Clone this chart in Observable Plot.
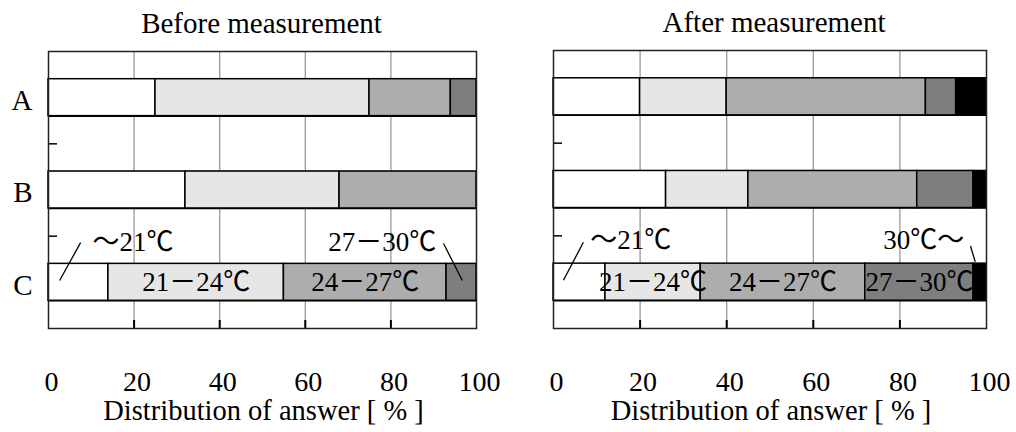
<!DOCTYPE html>
<html>
<head>
<meta charset="utf-8">
<script src="https://cdn.jsdelivr.net/npm/d3@7"></script>
<script src="https://cdn.jsdelivr.net/npm/@observablehq/plot@0.6"></script>
<style>
  body { margin: 0; background: #fff; }
  #wrap { display: flex; width: 1016px; height: 432px; }
  #wrap svg { display: block; }
</style>
</head>
<body>
<div id="wrap"></div>
<script>
// ---- data ----
const rows = ["A", "B", "C"];
const bands = ["～21℃", "21－24℃", "24－27℃", "27－30℃", "30℃～"];
const beforeA = [25, 50, 19, 6, 0];
const beforeB = [32, 36, 32, 0, 0];
const beforeC = [14, 41, 38, 7, 0];
const afterA = [20, 20, 46, 7, 7];
const afterB = [26, 19, 39, 13, 3];
const afterC = [12, 22, 38, 25, 3];
const xTicks = [0, 20, 40, 60, 80, 100];
const titles = ["Before measurement", "After measurement"];
const xLabel = "Distribution of answer [ % ]";

// ---- styling / layout (not data) ----
const bandFills = ["#ffffff", "#e6e6e6", "#adadad", "#7e7e7e", "#000000"];
const FONT = "'Liberation Serif', 'Times New Roman', 'Noto Sans CJK JP', serif";
const W = 508, H = 432, MB = 104, HALF = 0.2;

// callout placement (label text refers to band index)
const beforeCallouts = [
  {band: 0, tx: 10.3, ty: 2.166, anchor: "start", lx1: 2.6, ly1: 2.48, lx2: 7.5, ly2: 2.07},
  {band: 3, tx: 78.0, ty: 2.166, anchor: "middle", lx1: 96.7, ly1: 2.48, lx2: 92.3, ly2: 2.08}
];
const afterCallouts = [
  {band: 0, tx: 8.5, ty: 2.137, anchor: "start", lx1: 2.3, ly1: 2.48, lx2: 6.9, ly2: 2.07},
  {band: 4, tx: 85.5, ty: 2.137, anchor: "middle", lx1: 97.4, ly1: 2.28, lx2: 96.3, ly2: 2.11}
];

function panel({series, title, titleDx, callouts, marginLeft, marginRight, marginTop, rowLabels}) {
  const plotW = W - marginLeft - marginRight;
  const plotH = H - marginTop - MB;
  const rowCenters = rows.map((r, i) => i + 0.5);
  const segs = rows.flatMap((r, i) => {
    let acc = 0;
    return series[i].map((v, j) => ({row: r, yc: rowCenters[i], j, band: bands[j], x1: acc, x2: (acc += v), w: v}));
  }).filter(d => d.w > 0);
  const edges = rowCenters.flatMap(c => [c - HALF, c + HALF]);
  const inner = segs.filter(d => d.row === "C" && d.w >= 15);
  const grid = xTicks.slice(1, -1);

  return Plot.plot({
    width: W, height: H,
    marginLeft, marginRight, marginTop, marginBottom: MB,
    style: {fontFamily: FONT, fontSize: "29px", background: "#fff", color: "#000", overflow: "visible"},
    x: {domain: [0, 100], label: null},
    y: {domain: [0, 3], reverse: true, label: null},
    color: {type: "identity"},
    marks: [
      Plot.ruleX(grid, {x: d => d, stroke: "#999", strokeWidth: 1.3}),
      Plot.tickX(grid, {x: d => d, insetTop: plotH - 8, stroke: "#000", strokeWidth: 2}),
      Plot.ruleY(edges, {y: d => d, stroke: "#000", strokeWidth: 1.5}),
      Plot.rectX(segs, {
        x1: "x1", x2: "x2",
        y1: d => d.yc - HALF, y2: d => d.yc + HALF,
        fill: d => bandFills[d.j], stroke: "#000", strokeWidth: 1.5
      }),
      Plot.tickY([1, 2], {y: d => d, insetRight: plotW - 9, stroke: "#000", strokeWidth: 1.5}),
      Plot.frame({stroke: "#222", strokeWidth: 1.5}),
      Plot.text(inner, {x: d => (d.x1 + d.x2) / 2, y: "yc", text: "band", fontSize: 27, fill: "#000"}),
      Plot.link(callouts, {x1: "lx1", y1: "ly1", x2: "lx2", y2: "ly2", stroke: "#000", strokeWidth: 1.3}),
      Plot.text(callouts.filter(d => d.anchor === "start"), {x: "tx", y: "ty", text: d => bands[d.band], textAnchor: "start", lineAnchor: "bottom", fontSize: 27, fill: "#000"}),
      Plot.text(callouts.filter(d => d.anchor === "middle"), {x: "tx", y: "ty", text: d => bands[d.band], textAnchor: "middle", lineAnchor: "bottom", fontSize: 27, fill: "#000"}),
      Plot.axisX({ticks: xTicks, tickSize: 0, tickPadding: 43, fontSize: 28, dx: 3, label: null}),
      rowLabels
        ? Plot.axisY({ticks: rowCenters, tickFormat: (d, i) => rows[i], tickSize: 0, tickPadding: 16, fontSize: 29, dy: 3, label: null})
        : Plot.axisY({ticks: [], label: null}),
      Plot.text([title], {frameAnchor: "top", lineAnchor: "bottom", dy: -19, dx: titleDx, text: d => d, fontSize: 29, fill: "#000"}),
      Plot.text([xLabel], {frameAnchor: "bottom", lineAnchor: "bottom", dy: 91, dx: 1, text: d => d, fontSize: 28.5, fill: "#000"})
    ]
  });
}

const wrap = document.getElementById("wrap");
wrap.append(panel({
  series: [beforeA, beforeB, beforeC], title: titles[0], titleDx: -1,
  callouts: beforeCallouts, marginLeft: 48, marginRight: 32, marginTop: 51, rowLabels: true
}));
wrap.append(panel({
  series: [afterA, afterB, afterC], title: titles[1], titleDx: 4,
  callouts: afterCallouts, marginLeft: 45, marginRight: 30, marginTop: 50, rowLabels: false
}));
</script>
</body>
</html>
